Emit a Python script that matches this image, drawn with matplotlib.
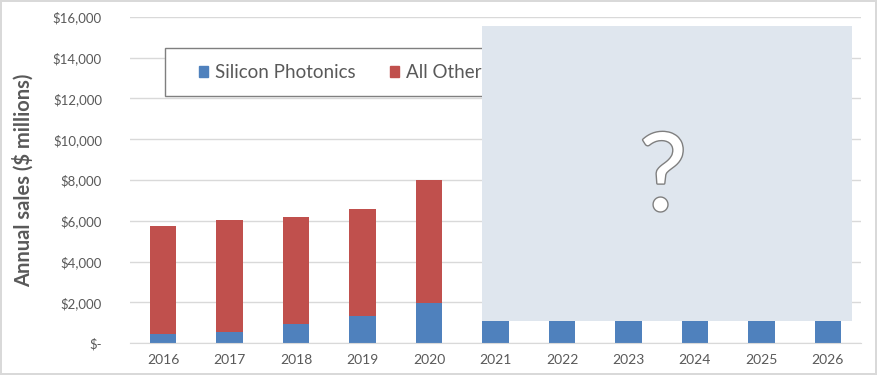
import numpy as np
import matplotlib
matplotlib.use("Agg")
import matplotlib.pyplot as plt
from matplotlib.patches import Rectangle, Patch
from matplotlib.ticker import FuncFormatter
import matplotlib.patheffects as pe

plt.rcParams['font.family'] = ['Lato', 'DejaVu Sans']

# Ventas anuales (millones de dolares)
anios = ['2016', '2017', '2018', '2019', '2020', '2021',
         '2022', '2023', '2024', '2025', '2026']
silicon = [430, 550, 950, 1350, 1950, 2600, 3300, 4100, 5000, 6000, 7100]
otros = [5320, 5500, 5250, 5250, 6050, 5600, 5300, 5000, 4700, 4400, 4100]

azul = '#4f81bd'
rojo = '#c0504d'
gris = '#595959'

fig = plt.figure(figsize=(8.77, 3.75), dpi=100)
fig.patch.set_edgecolor('#d9d9d9')
fig.patch.set_linewidth(1.5)
ax = fig.add_axes([0.148, 0.0853, 0.834, 0.8694])

x = np.arange(len(anios))
ax.bar(x, silicon, width=0.4, color=azul, zorder=3)
ax.bar(x, otros, width=0.4, bottom=silicon, color=rojo, zorder=3)

ax.set_xlim(-0.5, len(anios) - 0.5)
ax.set_ylim(0, 16000)
ax.set_yticks(np.arange(0, 16001, 2000))
ax.yaxis.set_major_formatter(FuncFormatter(
    lambda v, p: '$-' if v == 0 else '${:,.0f}'.format(v)))
ax.set_xticks(x)
ax.set_xticklabels(anios)
ax.tick_params(axis='x', length=0, labelsize=10, colors=gris, pad=8)
ax.tick_params(axis='y', length=0, labelsize=9.5, colors=gris, pad=20)
ax.grid(axis='y', color='#d9d9d9', linewidth=1, zorder=0)
for lado in ['top', 'right', 'left']:
    ax.spines[lado].set_visible(False)
ax.spines['bottom'].set_color('#d9d9d9')
ax.spines['bottom'].set_zorder(4)

ax.set_ylabel('Annual sales ($ millions)', fontsize=14.5, fontweight='bold',
              color=gris, labelpad=14)

# Marco de la leyenda
trans = ax.transAxes
ax.add_patch(Rectangle((0.048, 0.758), 0.6, 0.147, transform=trans,
                       facecolor='white', edgecolor='#7f7f7f', linewidth=1,
                       zorder=5))
manejadores = [Patch(color=azul, label='Silicon Photonics'),
               Patch(color=rojo, label='All Other')]
leyenda = ax.legend(handles=manejadores, ncol=2, frameon=False,
                    loc='center left', bbox_to_anchor=(0.0944, 0.829),
                    fontsize=13.5, handlelength=0.5, handleheight=0.5,
                    handletextpad=0.37, columnspacing=1.8, labelcolor=gris,
                    borderaxespad=0, borderpad=0)
leyenda.set_zorder(6)

# Zona de pronostico tapada
ax.add_patch(Rectangle((4.79, 1080), 5.57, 14480, facecolor='#dfe6ee',
                       edgecolor='none', zorder=10))
ax.text(7.52, 8000, '?', fontsize=78, color='white', ha='center', va='center',
        zorder=11, path_effects=[pe.withStroke(linewidth=2,
                                               foreground='#7f7f7f')])

fig.savefig('out.png', dpi=100)
